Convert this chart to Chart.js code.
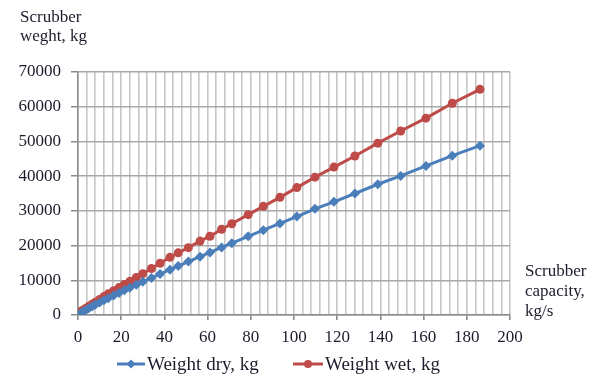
<!DOCTYPE html>
<html>
<head>
<meta charset="utf-8">
<script src="https://cdn.jsdelivr.net/npm/chart.js@4.4.0/dist/chart.umd.min.js"></script>
<style>
html,body{margin:0;padding:0;background:#fff;}
#wrap{position:relative;width:593px;height:379px;}
</style>
</head>
<body>
<div id="wrap"><canvas id="c" width="593" height="379"></canvas></div>
<script>
const capacity = [1, 2, 3.5, 5, 6.5, 8, 10, 12, 14, 16.5, 19, 21.5, 24, 27, 30, 34, 38, 42.6, 46.4, 51.1, 56.5, 61.1, 66.5, 71.2, 78.8, 85.8, 93.5, 101.3, 109.7, 118.5, 128.2, 138.8, 149.4, 161.1, 173.3, 186.1];
const weightDry = [300, 850, 1400, 1930, 2440, 2940, 3580, 4220, 4840, 5600, 6350, 7100, 7840, 8700, 9550, 10680, 11810, 13070, 14110, 15380, 16810, 18020, 19450, 20690, 22650, 24440, 26370, 28340, 30600, 32600, 35000, 37660, 40060, 42940, 45910, 48790];
const weightWet = [900, 1300, 1900, 2500, 3100, 3700, 4500, 5300, 6100, 7000, 7900, 8800, 9700, 10800, 11900, 13400, 14900, 16600, 17900, 19400, 21300, 22700, 24700, 26300, 28900, 31300, 33900, 36700, 39700, 42600, 45800, 49500, 53000, 56700, 61000, 65000];
const xTickLabels = [0, 20, 40, 60, 80, 100, 120, 140, 160, 180, 200];
const yTickLabels = [0, 10000, 20000, 30000, 40000, 50000, 60000, 70000];
const seriesNames = ['Weight dry, kg', 'Weight wet, kg'];
const yTitle = ['Scrubber', 'weght, kg'];
const xTitle = ['Scrubber', 'capacity,', 'kg/s'];

const FONT = 'Liberation Serif';
const TXT = '#1c1c2c';
const BLUE = '#4a7ebb';
const RED = '#be4b48';

const extras = {
  id: 'extras',
  afterDraw(chart) {
    const ctx = chart.ctx;
    ctx.save();
    ctx.fillStyle = TXT;
    ctx.font = '17px "' + FONT + '"';
    ctx.textAlign = 'left';
    ctx.textBaseline = 'alphabetic';
    yTitle.forEach((t, i) => ctx.fillText(t, 20, 22 + i * 19));
    xTitle.forEach((t, i) => ctx.fillText(t, 525, 276 + i * 20));
    // legend
    ctx.font = '19px "' + FONT + '"';
    const ly = 364;
    const items = [{x: 117, w: 28, ds: chart.data.datasets[0]}, {x: 293, w: 30, ds: chart.data.datasets[1]}];
    items.forEach(it => {
      ctx.strokeStyle = it.ds.borderColor;
      ctx.lineWidth = 3;
      ctx.beginPath(); ctx.moveTo(it.x, ly); ctx.lineTo(it.x + it.w, ly); ctx.stroke();
      const cx = it.x + it.w / 2;
      ctx.fillStyle = it.ds.borderColor;
      ctx.beginPath();
      if (it.ds.pointStyle === 'rectRot') {
        ctx.moveTo(cx, ly - 4.5); ctx.lineTo(cx + 4.5, ly); ctx.lineTo(cx, ly + 4.5); ctx.lineTo(cx - 4.5, ly);
      } else {
        ctx.arc(cx, ly, 4, 0, Math.PI * 2);
      }
      ctx.fill();
      ctx.fillStyle = TXT;
      ctx.textBaseline = 'middle';
      ctx.fillText(it.ds.label, it.x + it.w + 2, ly + 1);
    });
    ctx.restore();
  }
};

new Chart(document.getElementById('c'), {
  type: 'line',
  data: {
    datasets: [
      {label: seriesNames[0], data: capacity.map((x, i) => ({x, y: weightDry[i]})), borderColor: BLUE, backgroundColor: BLUE, borderWidth: 3, pointStyle: 'rectRot', pointRadius: 5, pointBorderWidth: 0, tension: 0},
      {label: seriesNames[1], data: capacity.map((x, i) => ({x, y: weightWet[i]})), borderColor: RED, backgroundColor: RED, borderWidth: 3, pointStyle: 'circle', pointRadius: 4.5, pointBorderWidth: 0, tension: 0}
    ]
  },
  options: {
    responsive: false,
    animation: false,
    layout: {padding: {left: 0, top: 72, right: 83, bottom: 0}},
    plugins: {legend: {display: false}, tooltip: {enabled: false}},
    scales: {
      x: {
        type: 'linear', min: 0, max: 200,
        afterFit(s) { s.height = 64; },
        afterBuildTicks(s) { const t = []; for (let v = 0; v <= 200; v += 4) t.push({value: v}); s.ticks = t; },
        ticks: {autoSkip: false, maxRotation: 0, padding: 7, color: TXT, font: {family: FONT, size: 17},
          callback: v => xTickLabels.includes(v) ? String(v) : ''},
        grid: {color: '#c6c6c6', lineWidth: 1.6, tickLength: 5,
          tickColor: c => (c.tick && xTickLabels.includes(c.tick.value)) ? '#8a8a8a' : 'rgba(0,0,0,0)'},
        border: {color: '#8a8a8a', width: 1.5}
      },
      y: {
        min: 0, max: 70000,
        afterFit(s) { s.width = 78; },
        afterBuildTicks(s) { s.ticks = yTickLabels.map(v => ({value: v})); },
        ticks: {padding: 10, color: TXT, font: {family: FONT, size: 17}, callback: v => String(v)},
        grid: {color: '#a8a8a8', lineWidth: 1.5, tickLength: 7, tickColor: '#8a8a8a'},
        border: {color: '#8a8a8a', width: 1.5}
      }
    }
  },
  plugins: [extras]
});
</script>
</body>
</html>
